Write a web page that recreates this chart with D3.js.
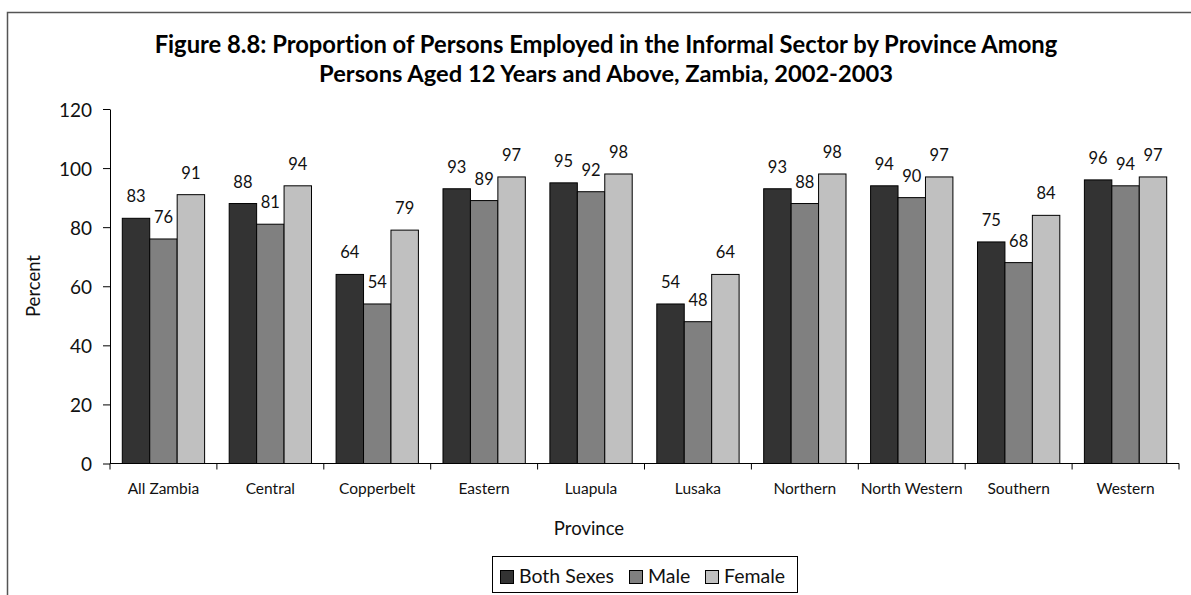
<!DOCTYPE html>
<html>
<head>
<meta charset="utf-8">
<script src="https://cdn.jsdelivr.net/npm/d3@7"></script>
<style>
  html, body { margin: 0; padding: 0; background: #fff; }
  svg { display: block; font-family: Lato, "Open Sans", sans-serif; font-variant-ligatures: none; font-feature-settings: "liga" 0, "clig" 0; }
</style>
</head>
<body>
<svg id="chart" width="1191" height="595"></svg>
<script>
const titleLines = [
  "Figure 8.8: Proportion of Persons Employed in the Informal Sector by Province Among",
  "Persons Aged 12 Years and Above, Zambia, 2002-2003"
];
const categories = ["All Zambia", "Central", "Copperbelt", "Eastern", "Luapula", "Lusaka",
                    "Northern", "North Western", "Southern", "Western"];
const seriesNames = ["Both Sexes", "Male", "Female"];
const bothSexes = [83, 88, 64, 93, 95, 54, 93, 94, 75, 96];
const male      = [76, 81, 54, 89, 92, 48, 88, 90, 68, 94];
const female    = [91, 94, 79, 97, 98, 64, 98, 97, 84, 97];
const yTicks = [0, 20, 40, 60, 80, 100, 120];
const colors = ["#333333", "#808080", "#c0c0c0"];

const seriesValues = [bothSexes, male, female];

const svg = d3.select("#chart");

// outer frame (clipped at right/bottom like the reference)
svg.append("rect")
  .attr("x", 7.5).attr("y", 12.5)
  .attr("width", 1200).attr("height", 600)
  .attr("fill", "none").attr("stroke", "#555").attr("stroke-width", 1.5);

const plot = { left: 110, right: 1179, top: 109, bottom: 463.5 };

const x0 = d3.scaleBand().domain(categories).range([plot.left, plot.right]).padding(0);
const bw = x0.bandwidth();
const x1 = d3.scaleBand().domain(seriesNames)
  .range([bw * 0.115, bw * 0.885]).padding(0);
const y = d3.scaleLinear().domain([0, 120]).range([plot.bottom, plot.top]);

// title
const title = svg.append("g");
const titleWidths = [903, 574];
titleLines.forEach((t, i) => {
  const txt = title.append("text")
    .attr("x", 606).attr("y", 53 + i * 29)
    .attr("text-anchor", "middle")
    .attr("font-weight", "bold")
    .attr("font-size", 21)
    .attr("fill", "#000")
    .text(t);
  const w = txt.node().getComputedTextLength();
  if (w > 0) txt.attr("font-size", 21 * titleWidths[i] / w);
});

// bars
const groups = svg.append("g").selectAll("g")
  .data(categories)
  .join("g")
  .attr("transform", d => `translate(${x0(d)},0)`);

groups.selectAll("rect")
  .data((d, ci) => seriesNames.map((s, si) => ({ s, si, v: seriesValues[si][ci] })))
  .join("rect")
  .attr("x", d => x1(d.s))
  .attr("y", d => y(d.v))
  .attr("width", x1.bandwidth())
  .attr("height", d => y(0) - y(d.v))
  .attr("fill", d => colors[d.si])
  .attr("stroke", "#000")
  .attr("stroke-width", 1);

groups.selectAll("text.val")
  .data((d, ci) => seriesNames.map((s, si) => ({ s, si, v: seriesValues[si][ci] })))
  .join("text")
  .attr("class", "val")
  .attr("x", d => x1(d.s) + x1.bandwidth() / 2)
  .attr("y", d => y(d.v) - 16)
  .attr("text-anchor", "middle")
  .attr("font-size", 16.5)
  .attr("fill", "#111")
  .text(d => d.v);

// y axis
const yAxis = svg.append("g")
  .attr("transform", `translate(${plot.left},0)`)
  .call(d3.axisLeft(y).tickValues(yTicks).tickSize(7).tickSizeOuter(0).tickPadding(11));
yAxis.select(".domain").attr("stroke", "#000");
yAxis.selectAll(".tick line").attr("stroke", "#000");
yAxis.selectAll(".tick text")
  .attr("font-size", 19).attr("fill", "#111")
  .attr("font-family", "Lato, 'Open Sans', sans-serif")
  .attr("dy", "0.38em");

// x axis
svg.append("line")
  .attr("x1", plot.left).attr("x2", plot.right)
  .attr("y1", plot.bottom).attr("y2", plot.bottom)
  .attr("stroke", "#000");
const boundaries = categories.map(c => x0(c)).concat([x0(categories[categories.length - 1]) + bw]);
svg.append("g").selectAll("line")
  .data(boundaries)
  .join("line")
  .attr("x1", d => d).attr("x2", d => d)
  .attr("y1", plot.bottom).attr("y2", plot.bottom + 6)
  .attr("stroke", "#000");
svg.append("g").selectAll("text")
  .data(categories)
  .join("text")
  .attr("x", d => x0(d) + bw / 2)
  .attr("y", 494)
  .attr("text-anchor", "middle")
  .attr("font-size", 15.5)
  .attr("fill", "#111")
  .text(d => d);

// axis titles
svg.append("text")
  .attr("x", 589).attr("y", 535)
  .attr("text-anchor", "middle")
  .attr("font-size", 18.5)
  .attr("fill", "#111")
  .text("Province");

svg.append("text")
  .attr("transform", "translate(40,286) rotate(-90)")
  .attr("text-anchor", "middle")
  .attr("font-size", 18.5)
  .attr("fill", "#111")
  .text("Percent");

// legend
const legend = svg.append("g");
legend.append("rect")
  .attr("x", 492.5).attr("y", 556.5)
  .attr("width", 305).attr("height", 36)
  .attr("fill", "#fff").attr("stroke", "#000").attr("stroke-width", 1);
const legendX = [500, 629, 705];
seriesNames.forEach((s, i) => {
  legend.append("rect")
    .attr("x", legendX[i] + 0.5).attr("y", 570.5)
    .attr("width", 13).attr("height", 13)
    .attr("fill", colors[i]).attr("stroke", "#000");
  legend.append("text")
    .attr("x", legendX[i] + 19).attr("y", 583)
    .attr("font-size", 19.5)
    .attr("fill", "#111")
    .text(s);
});
</script>
</body>
</html>
